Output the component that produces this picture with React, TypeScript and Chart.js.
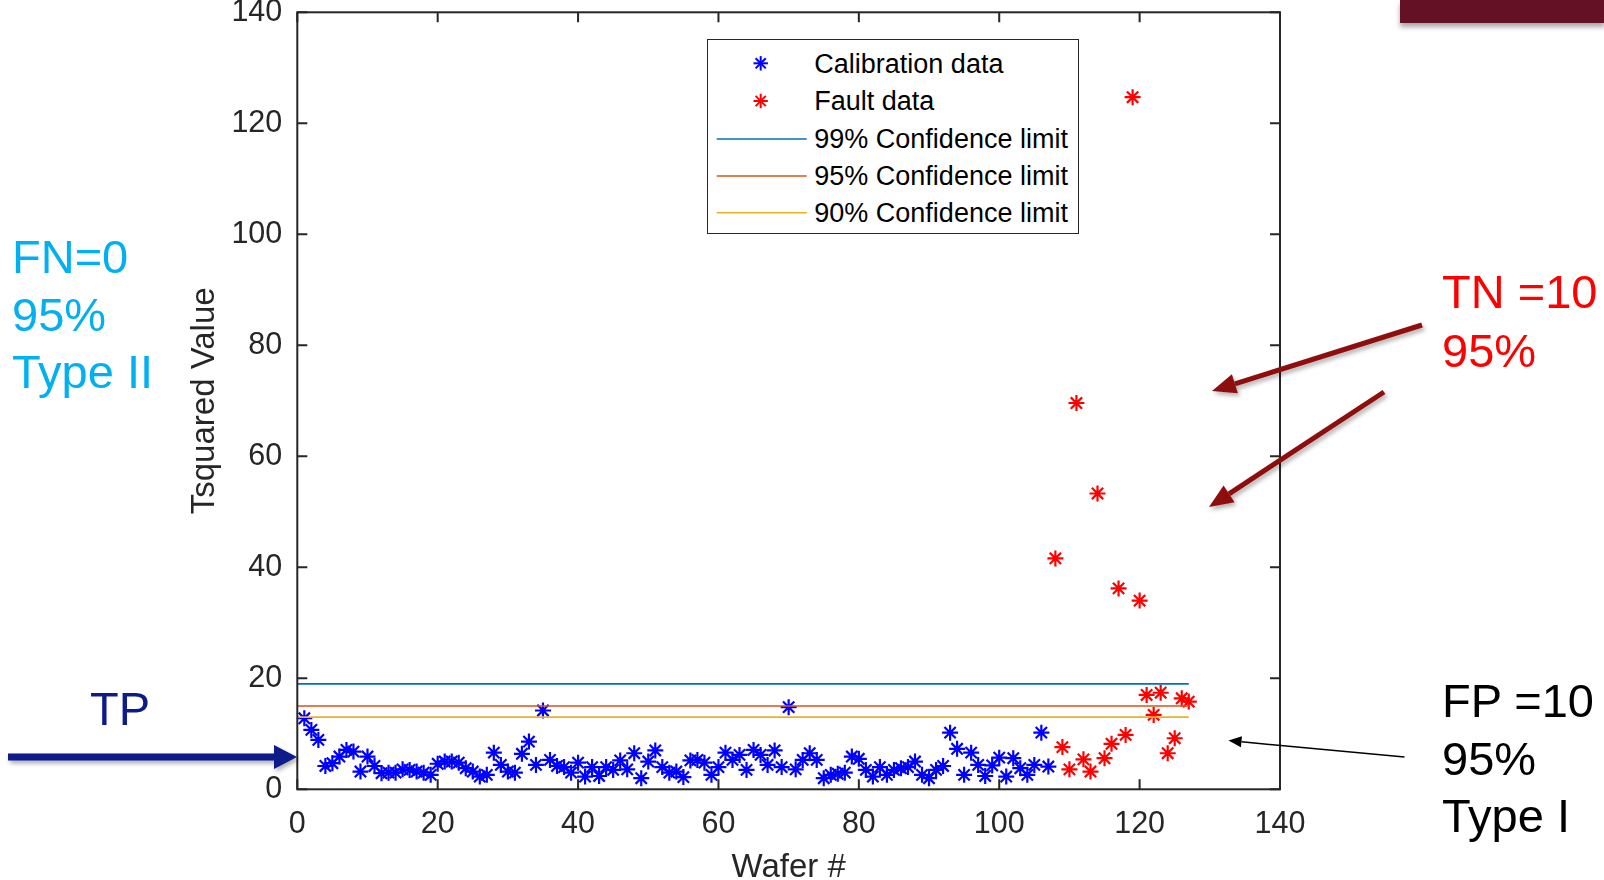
import React, { useEffect, useRef } from "react";
import { Chart, registerables } from "chart.js";

Chart.register(...registerables);

// ---------------- DATA ----------------
const calibrationFirstWafer = 1;
const calibrationValues = [
  12.8, 10.7, 8.9, 4.2, 4.7, 5.9, 7.1, 6.8, 3.2, 5.9,
  4.2, 2.9, 3.0, 3.0, 3.6, 3.5, 3.2, 3.0, 2.6, 4.6,
  5.0, 5.0, 4.8, 3.8, 3.2, 2.3, 2.6, 6.6, 4.4, 3.2,
  3.0, 6.4, 8.6, 4.4, 14.2, 5.3, 4.2, 4.0, 3.0, 4.8,
  2.3, 4.0, 2.4, 4.0, 3.5, 5.2, 3.6, 6.5, 2.0, 5.0,
  7.0, 4.0, 3.0, 3.2, 2.2, 5.2, 5.3, 4.8, 2.6, 4.0,
  6.6, 5.3, 6.2, 3.5, 7.1, 6.2, 4.4, 7.0, 4.0, 14.8,
  3.6, 5.3, 6.5, 5.3, 2.0, 2.6, 2.8, 3.0, 5.9, 5.5,
  3.5, 2.3, 4.0, 2.6, 3.5, 3.8, 4.0, 5.0, 2.6, 2.0,
  3.5, 4.2, 10.2, 7.3, 2.6, 6.6, 4.4, 2.4, 4.3, 5.7,
  2.3, 5.6, 3.8, 2.6, 4.4, 10.2, 4.1,
];

const faultFirstWafer = 108;
const faultValues = [
  41.6, 7.6, 3.6, 69.6, 5.4, 3.2, 53.3, 5.6, 8.2, 36.2,
  9.8, 124.7, 34.0, 17.0, 13.4, 17.4, 6.5, 9.2, 16.4, 15.8,
];

const limitLabels = ["99% Confidence limit", "95% Confidence limit", "90% Confidence limit"];
const limitValues = [19.0, 15.0, 13.0];
const limitColors = ["#0072BD", "#D95319", "#EDB120"];
const limitStartWafer = 0;
const limitEndWafer = 127;

const seriesLabels = ["Calibration data", "Fault data"];
const seriesColors = ["#0000FF", "#FF0000"];

const axisMin = 0;
const axisMax = 140;
const tickStep = 20;
const tickValues = [0, 20, 40, 60, 80, 100, 120, 140];

const xTitle = "Wafer #";
const yTitle = "Tsquared Value";

// annotation texts
const leftNoteLines = ["FN=0", "95%", "Type II"];
const rightTopNoteLines = ["TN =10", "95%"];
const rightBottomNoteLines = ["FP =10", "95%", "Type I"];
const tpNote = "TP";

const FONT = "'Liberation Sans', Arial, Helvetica, sans-serif";

// ---------------- PLUGIN: MATLAB-style box with inner ticks ----------------
const boxPlugin = {
  id: "matlabBox",
  afterDatasetsDraw(chart: any) {
    const { ctx, chartArea, scales } = chart;
    const { left, right, top, bottom } = chartArea;
    const x = scales.x;
    const y = scales.y;
    ctx.save();
    ctx.strokeStyle = "#262626";
    ctx.lineWidth = 2;
    ctx.strokeRect(left, top, right - left, bottom - top);
    ctx.beginPath();
    for (const v of tickValues) {
      const px = x.getPixelForValue(v);
      ctx.moveTo(px, bottom);
      ctx.lineTo(px, bottom - 10);
      ctx.moveTo(px, top);
      ctx.lineTo(px, top + 10);
      const py = y.getPixelForValue(v);
      ctx.moveTo(left, py);
      ctx.lineTo(left + 10, py);
      ctx.moveTo(right, py);
      ctx.lineTo(right - 10, py);
    }
    ctx.stroke();
    ctx.restore();
  },
};

function arrowParts(x1: number, y1: number, x2: number, y2: number, len: number, halfW: number) {
  const dx = x2 - x1;
  const dy = y2 - y1;
  const L = Math.hypot(dx, dy);
  const ux = dx / L;
  const uy = dy / L;
  const bx = x2 - ux * len;
  const by = y2 - uy * len;
  const px = -uy;
  const py = ux;
  return {
    bx,
    by,
    points: `${x2},${y2} ${bx + px * halfW},${by + py * halfW} ${bx - px * halfW},${by - py * halfW}`,
  };
}

function Arrow(props: { x1: number; y1: number; x2: number; y2: number; w: number; len: number; hw: number; color: string; shadow?: boolean }) {
  const { x1, y1, x2, y2, w, len, hw, color, shadow } = props;
  const a = arrowParts(x1, y1, x2, y2, len, hw);
  return (
    <g filter={shadow ? "url(#shd)" : undefined}>
      <line x1={x1} y1={y1} x2={a.bx} y2={a.by} stroke={color} strokeWidth={w} />
      <polygon points={a.points} fill={color} />
    </g>
  );
}

function Star(props: { cx: number; cy: number; r: number; color: string }) {
  const { cx, cy, r, color } = props;
  const d = r * Math.SQRT1_2;
  return (
    <g stroke={color} strokeWidth={2}>
      <line x1={cx - r} y1={cy} x2={cx + r} y2={cy} />
      <line x1={cx} y1={cy - r} x2={cx} y2={cy + r} />
      <line x1={cx - d} y1={cy - d} x2={cx + d} y2={cy + d} />
      <line x1={cx - d} y1={cy + d} x2={cx + d} y2={cy - d} />
    </g>
  );
}

function TextLine(props: { text: string; left: number; cy: number; size: number; color: string }) {
  const { text, left, cy, size, color } = props;
  return (
    <div
      style={{
        position: "absolute",
        left,
        top: cy - size / 2,
        fontFamily: FONT,
        fontSize: size,
        lineHeight: `${size}px`,
        color,
        whiteSpace: "pre",
      }}
    >
      {text}
    </div>
  );
}

export default function App() {
  const canvasRef = useRef<HTMLCanvasElement>(null);

  useEffect(() => {
    const canvas = canvasRef.current;
    if (!canvas) return;
    const limitDatasets = limitValues.map((v, i) => ({
      label: limitLabels[i],
      data: [
        { x: limitStartWafer, y: v },
        { x: limitEndWafer, y: v },
      ],
      showLine: true,
      borderColor: limitColors[i],
      borderWidth: 1.6,
      pointRadius: 0,
      fill: false,
    }));
    const chart = new Chart(canvas, {
      type: "scatter",
      data: {
        datasets: [
          ...limitDatasets,
          {
            label: seriesLabels[0],
            data: calibrationValues.map((v, i) => ({ x: calibrationFirstWafer + i, y: v })),
            showLine: false,
            pointStyle: "star",
            pointRadius: 8,
            pointBorderWidth: 2.2,
            borderColor: seriesColors[0],
            backgroundColor: seriesColors[0],
          },
          {
            label: seriesLabels[1],
            data: faultValues.map((v, i) => ({ x: faultFirstWafer + i, y: v })),
            showLine: false,
            pointStyle: "star",
            pointRadius: 8,
            pointBorderWidth: 2.2,
            borderColor: seriesColors[1],
            backgroundColor: seriesColors[1],
          },
        ],
      } as any,
      options: {
        animation: false,
        responsive: false,
        maintainAspectRatio: false,
        devicePixelRatio: 1,
        layout: { padding: { left: 0, right: 324, top: 12.3, bottom: 0 } },
        plugins: {
          legend: { display: false },
          tooltip: { enabled: false },
        },
        scales: {
          x: {
            type: "linear",
            position: "bottom",
            min: axisMin,
            max: axisMax,
            afterFit: (s: any) => {
              s.height = 90.7;
              s.paddingLeft = 0;
              s.paddingRight = 0;
            },
            ticks: {
              stepSize: tickStep,
              color: "#262626",
              font: { family: FONT, size: 30.5, lineHeight: 1 },
              padding: 20.5,
              maxRotation: 0,
              autoSkip: false,
            },
            grid: { display: false, drawTicks: false },
            border: { display: false },
            title: {
              display: true,
              text: xTitle,
              color: "#262626",
              font: { family: FONT, size: 33, lineHeight: 0.72 },
              padding: { top: 0, bottom: 0 },
            },
          },
          y: {
            type: "linear",
            position: "left",
            min: axisMin,
            max: axisMax,
            afterFit: (s: any) => {
              s.width = 297.3;
              s.paddingTop = 0;
              s.paddingBottom = 0;
            },
            ticks: {
              stepSize: tickStep,
              color: "#262626",
              font: { family: FONT, size: 30.5, lineHeight: 1 },
              padding: 15,
              autoSkip: false,
            },
            grid: { display: false, drawTicks: false },
            border: { display: false },
            title: {
              display: true,
              text: yTitle,
              color: "#262626",
              font: { family: FONT, size: 33, lineHeight: 1 },
              padding: { top: 188.5, bottom: 0 },
            },
          },
        },
      } as any,
      plugins: [boxPlugin],
    });
    return () => chart.destroy();
  }, []);

  const legendRows = [63.3, 101, 139, 176, 212.7];

  return (
    <div
      style={{
        position: "fixed",
        left: 0,
        top: 0,
        width: 1604,
        height: 880,
        background: "#ffffff",
        overflow: "hidden",
      }}
    >
      <canvas
        ref={canvasRef}
        width={1604}
        height={880}
        style={{ position: "absolute", left: 0, top: 0, width: 1604, height: 880 }}
      />

      {/* maroon banner top right */}
      <div
        style={{
          position: "absolute",
          left: 1399.5,
          top: 0,
          width: 205,
          height: 22.5,
          background: "#641126",
          boxShadow: "0 4px 5px rgba(0,0,0,0.35)",
        }}
      />

      {/* legend box */}
      <div
        style={{
          position: "absolute",
          left: 707.3,
          top: 39.3,
          width: 372,
          height: 194.7,
          boxSizing: "border-box",
          border: "1.3px solid #262626",
          background: "#ffffff",
        }}
      />

      <svg
        width={1604}
        height={880}
        style={{ position: "absolute", left: 0, top: 0, pointerEvents: "none" }}
      >
        <defs>
          <filter id="shd" x="-20%" y="-50%" width="140%" height="200%">
            <feDropShadow dx="2" dy="3" stdDeviation="2" floodColor="#000" floodOpacity="0.3" />
          </filter>
        </defs>
        {/* legend symbols */}
        <Star cx={760.7} cy={legendRows[0]} r={7.2} color={seriesColors[0]} />
        <Star cx={760.7} cy={legendRows[1]} r={7.2} color={seriesColors[1]} />
        {limitColors.map((c, i) => (
          <line key={c} x1={716.7} x2={806.7} y1={legendRows[2 + i]} y2={legendRows[2 + i]} stroke={c} strokeWidth={1.6} />
        ))}

        {/* arrows */}
        <Arrow x1={8} y1={757} x2={297} y2={757} w={7} len={23} hw={12} color="#0D1A8A" shadow />
        <Arrow x1={1422} y1={325} x2={1212} y2={391} w={5} len={24} hw={10} color="#8E0B0B" shadow />
        <Arrow x1={1384} y1={392} x2={1209} y2={507} w={5} len={24} hw={10} color="#8E0B0B" shadow />
        <Arrow x1={1404.5} y1={757} x2={1228.5} y2={740.6} w={1.5} len={13} hw={5.5} color="#000000" />
      </svg>

      {/* legend text */}
      {[...seriesLabels, ...limitLabels].map((t, i) => (
        <TextLine key={t} text={t} left={814.3} cy={legendRows[i] + 0.8} size={27} color="#000000" />
      ))}

      {/* annotations */}
      {leftNoteLines.map((t, i) => (
        <TextLine key={"l" + i} text={t} left={12} cy={[256, 314, 371.5][i]} size={47} color="#00B0F0" />
      ))}
      {rightTopNoteLines.map((t, i) => (
        <TextLine key={"rt" + i} text={t} left={1442} cy={[291.5, 350][i]} size={47} color="#FF0000" />
      ))}
      {rightBottomNoteLines.map((t, i) => (
        <TextLine key={"rb" + i} text={t} left={1442} cy={[700.7, 758, 815][i]} size={47} color="#000000" />
      ))}
      <TextLine text={tpNote} left={90} cy={708} size={47} color="#0D1A8A" />
    </div>
  );
}
